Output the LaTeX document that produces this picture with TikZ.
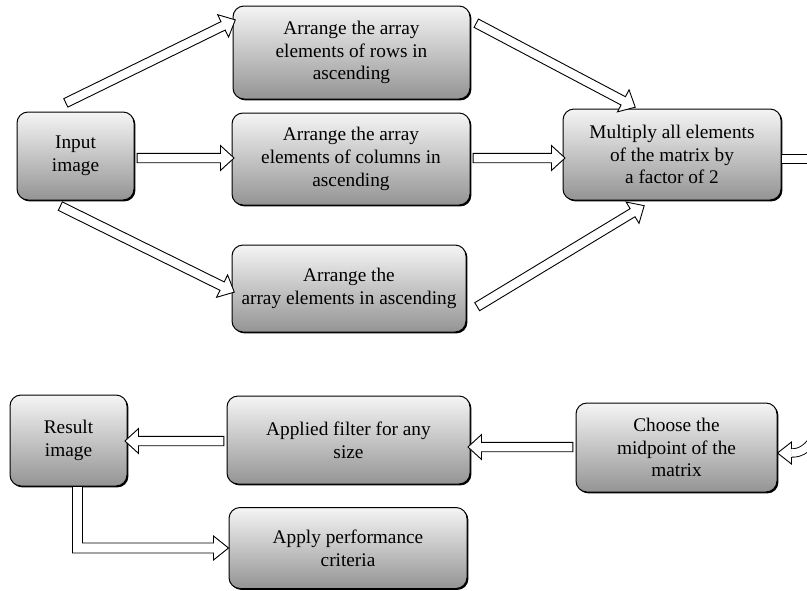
\documentclass[tikz,border=0pt]{standalone}
\usepackage{fontspec}
\setmainfont{Liberation Serif}
\usetikzlibrary{shapes.arrows,shadows,calc}
\tikzset{
 box/.style={draw, line width=1pt, rounded corners=11pt, top color=white!96!black, bottom color=black!42,
   drop shadow={shadow xshift=1.4pt, shadow yshift=-1.4pt, opacity=1, fill=black},
   align=center, font=\fontsize{19.3}{22.8}\selectfont, inner sep=0pt},
 harrow/.style={shape=single arrow, draw, fill=white, line width=0.9pt, inner xsep=0pt, inner ysep=4.25pt,
   minimum width=24pt, single arrow head extend=7.75pt, single arrow tip angle=85, line join=miter},
 dline/.style={draw, line width=0.9pt, double=white, double distance=7.5pt},
 hollow/.style={draw, line width=0.9pt, fill=white, line join=miter},
}
\newcommand\harr[2]{\path let \p1=(#1), \p2=(#2), \n1={atan2(\y2-\y1,\x2-\x1)},
  \n2={veclen(\x2-\x1,\y2-\y1)} in node[harrow, minimum height=\n2, rotate=\n1] at ($(#1)!0.5!(#2)$) {};}
\begin{document}
\begin{tikzpicture}[x=1pt,y=-1pt]
\clip (0,0) rectangle (807,590);
% boxes
\node[box, minimum width=117, minimum height=88] (in) at (75.5,156) {Input\\image};
\node[box, minimum width=237, minimum height=93] (rows) at (351.5,52.5) {Arrange the array\\elements of rows in\\ascending};
\node[box, minimum width=238, minimum height=92] (col) at (351,159) {Arrange the array\\elements of columns in\\ascending};
\node[box, minimum width=234, minimum height=87] (asc) at (349,288.5) {Arrange the\\array elements in ascending};
\node[box, minimum width=218, minimum height=91] (mul) at (672,154.5) {Multiply all elements\\of the matrix by\\a factor of 2};
\node[box, minimum width=201, minimum height=89] (cho) at (676.5,447.5) {Choose the\\midpoint of the\\matrix};
\node[box, minimum width=243, minimum height=88] (app) at (348.5,440) {Applied filter for any\\size};
\node[box, minimum width=117, minimum height=91] (res) at (68.5,440.5) {Result\\image};
\node[box, minimum width=238, minimum height=81] (perf) at (348,548) {Apply performance\\criteria};
% coordinates
\coordinate (a1s) at (63.5,104); \coordinate (a1e) at (233,21);
\coordinate (a3s) at (58,205);   \coordinate (a3e) at (232,291);
\coordinate (a4s) at (474,22);   \coordinate (a4e) at (633,106);
\coordinate (a6s) at (475,308);  \coordinate (a6e) at (642,207);
\coordinate (midrow) at (0,158);
\coordinate (a2s) at (in.east |- midrow);  \coordinate (a2e) at (col.west |- midrow);
\coordinate (a5s) at (col.east |- midrow); \coordinate (a5e) at (mul.west |- midrow);
\coordinate (row7) at (0,159);
\coordinate (a7s) at (mul.east |- row7); \coordinate (a7e) at (830,159);
\coordinate (row9) at (0,447);
\coordinate (a9s) at (cho.west |- row9); \coordinate (a9e) at (app.east |- row9);
\coordinate (row10) at (0,441);
\coordinate (a10s) at (app.west |- row10); \coordinate (a10e) at (res.east |- row10);
\coordinate (ctip) at ($(cho.east)+(0,5.5)$);
\coordinate (coff) at (822,420);
\coordinate (ev) at ($(res.south)+(9,0)$);
% straight hollow arrows
\harr{a1s}{a1e}
\harr{a2s}{a2e}
\harr{a3s}{a3e}
\harr{a4s}{a4e}
\harr{a5s}{a5e}
\harr{a6s}{a6e}
\harr{a9s}{a9e}
\harr{a10s}{a10e}
% multiply -> off page
\draw[dline] ($(a7s)+(0.6,0)$) -- (a7e);
% off page -> choose
\draw[dline] (coff) .. controls (812,450) and (800,453) .. ($(ctip)+(14,0)$);
\fill[white] ($(ctip)+(14,-11)$) -- (ctip) -- ($(ctip)+(14,11)$) -- cycle;
\draw[line width=0.9pt, line join=miter] ($(ctip)+(14,-4.2)$) -- ($(ctip)+(14,-11)$) -- (ctip) -- ($(ctip)+(14,11)$) -- ($(ctip)+(14,4.2)$);
% result -> performance (elbow)
\draw[hollow] ($(ev)+(-5,0)$) |- ($(perf.west)+(-15,5)$) -- ($(perf.west)+(-15,12)$) -- (perf.west)
  -- ($(perf.west)+(-15,-12)$) -- ($(perf.west)+(-15,-5)$) -| ($(ev)+(5,0)$) -- cycle;
\end{tikzpicture}
\end{document}
